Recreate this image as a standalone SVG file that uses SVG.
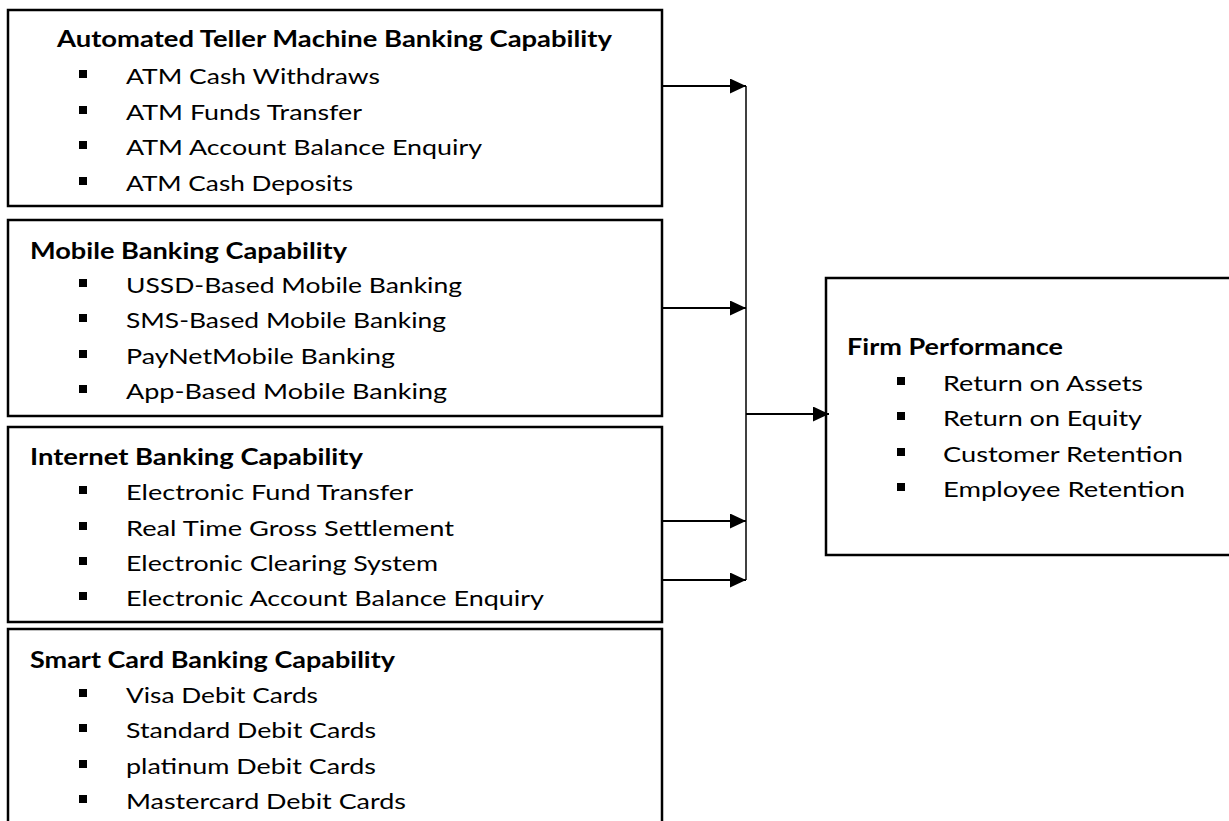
<svg xmlns="http://www.w3.org/2000/svg" width="1229" height="821" viewBox="0 0 1229 821">
<style>
.box{fill:#fff;stroke:#000;stroke-width:2.5}
.t{font-family:Lato,"Liberation Sans",sans-serif;font-size:22px;fill:#000}
.b{font-weight:bold}
.bul{fill:#000}
.conn{stroke:#000;stroke-width:2;fill:none}
.vline{stroke:#000;stroke-width:1.5;fill:none}
</style>
<defs>
<marker id="ah" viewBox="0 0 16 15" refX="16" refY="7.5" markerWidth="16" markerHeight="15" markerUnits="userSpaceOnUse" orient="auto">
<path d="M0,0 L16,7.5 L0,15 Z" fill="#000"/>
</marker>
</defs>
<g id="atm">
<rect class="box" x="8" y="10" width="654" height="196"/>
<text class="t b" x="57" y="47" textLength="555" lengthAdjust="spacingAndGlyphs">Automated Teller Machine Banking Capability</text>
<rect class="bul" x="79" y="70" width="8" height="8"/>
<text class="t" x="126" y="84" textLength="254" lengthAdjust="spacingAndGlyphs">ATM Cash Withdraws</text>
<rect class="bul" x="79" y="106" width="8" height="8"/>
<text class="t" x="126" y="120" textLength="236" lengthAdjust="spacingAndGlyphs">ATM Funds Transfer</text>
<rect class="bul" x="79" y="141" width="8" height="8"/>
<text class="t" x="126" y="155" textLength="356" lengthAdjust="spacingAndGlyphs">ATM Account Balance Enquiry</text>
<rect class="bul" x="79" y="177" width="8" height="8"/>
<text class="t" x="126" y="191" textLength="227" lengthAdjust="spacingAndGlyphs">ATM Cash Deposits</text>
</g>
<g id="mobile">
<rect class="box" x="8" y="220" width="654" height="196"/>
<text class="t b" x="30" y="259" textLength="317" lengthAdjust="spacingAndGlyphs">Mobile Banking Capability</text>
<rect class="bul" x="79" y="279" width="8" height="8"/>
<text class="t" x="126" y="293" textLength="336" lengthAdjust="spacingAndGlyphs">USSD-Based Mobile Banking</text>
<rect class="bul" x="79" y="314" width="8" height="8"/>
<text class="t" x="126" y="328" textLength="320" lengthAdjust="spacingAndGlyphs">SMS-Based Mobile Banking</text>
<rect class="bul" x="79" y="350" width="8" height="8"/>
<text class="t" x="126" y="364" textLength="269" lengthAdjust="spacingAndGlyphs">PayNetMobile Banking</text>
<rect class="bul" x="79" y="385" width="8" height="8"/>
<text class="t" x="126" y="399" textLength="321" lengthAdjust="spacingAndGlyphs">App-Based Mobile Banking</text>
</g>
<g id="internet">
<rect class="box" x="8" y="427" width="654" height="195"/>
<text class="t b" x="30" y="465" textLength="333" lengthAdjust="spacingAndGlyphs">Internet Banking Capability</text>
<rect class="bul" x="79" y="486" width="8" height="8"/>
<text class="t" x="126" y="500" textLength="287" lengthAdjust="spacingAndGlyphs">Electronic Fund Transfer</text>
<rect class="bul" x="79" y="522" width="8" height="8"/>
<text class="t" x="126" y="536" textLength="328" lengthAdjust="spacingAndGlyphs">Real Time Gross Settlement</text>
<rect class="bul" x="79" y="557" width="8" height="8"/>
<text class="t" x="126" y="571" textLength="312" lengthAdjust="spacingAndGlyphs">Electronic Clearing System</text>
<rect class="bul" x="79" y="592" width="8" height="8"/>
<text class="t" x="126" y="606" textLength="418" lengthAdjust="spacingAndGlyphs">Electronic Account Balance Enquiry</text>
</g>
<g id="smartcard">
<rect class="box" x="8" y="629" width="654" height="200"/>
<text class="t b" x="30" y="668" textLength="365" lengthAdjust="spacingAndGlyphs">Smart Card Banking Capability</text>
<rect class="bul" x="79" y="689" width="8" height="8"/>
<text class="t" x="126" y="703" textLength="192" lengthAdjust="spacingAndGlyphs">Visa Debit Cards</text>
<rect class="bul" x="79" y="724" width="8" height="8"/>
<text class="t" x="126" y="738" textLength="250" lengthAdjust="spacingAndGlyphs">Standard Debit Cards</text>
<rect class="bul" x="79" y="760" width="8" height="8"/>
<text class="t" x="126" y="774" textLength="250" lengthAdjust="spacingAndGlyphs">platinum Debit Cards</text>
<rect class="bul" x="79" y="795" width="8" height="8"/>
<text class="t" x="126" y="809" textLength="280" lengthAdjust="spacingAndGlyphs">Mastercard Debit Cards</text>
</g>
<g id="firm">
<rect class="box" x="826" y="278" width="410" height="277"/>
<text class="t b" x="847" y="355" textLength="216" lengthAdjust="spacingAndGlyphs">Firm Performance</text>
<rect class="bul" x="897" y="377" width="8" height="8"/>
<text class="t" x="943" y="391" textLength="200" lengthAdjust="spacingAndGlyphs">Return on Assets</text>
<rect class="bul" x="897" y="412" width="8" height="8"/>
<text class="t" x="943" y="426" textLength="199" lengthAdjust="spacingAndGlyphs">Return on Equity</text>
<rect class="bul" x="897" y="448" width="8" height="8"/>
<text class="t" x="943" y="462" textLength="240" lengthAdjust="spacingAndGlyphs">Customer Retention</text>
<rect class="bul" x="897" y="483" width="8" height="8"/>
<text class="t" x="943" y="497" textLength="242" lengthAdjust="spacingAndGlyphs">Employee Retention</text>
</g>
<g id="connectors">
<line class="vline" x1="746" y1="86" x2="746" y2="580"/>
<line class="conn" x1="662" y1="86" x2="746" y2="86" marker-end="url(#ah)"/>
<line class="conn" x1="662" y1="308" x2="746" y2="308" marker-end="url(#ah)"/>
<line class="conn" x1="662" y1="521" x2="746" y2="521" marker-end="url(#ah)"/>
<line class="conn" x1="662" y1="580" x2="746" y2="580" marker-end="url(#ah)"/>
<line class="conn" x1="746" y1="414" x2="829" y2="414" marker-end="url(#ah)"/>
</g>
</svg>
